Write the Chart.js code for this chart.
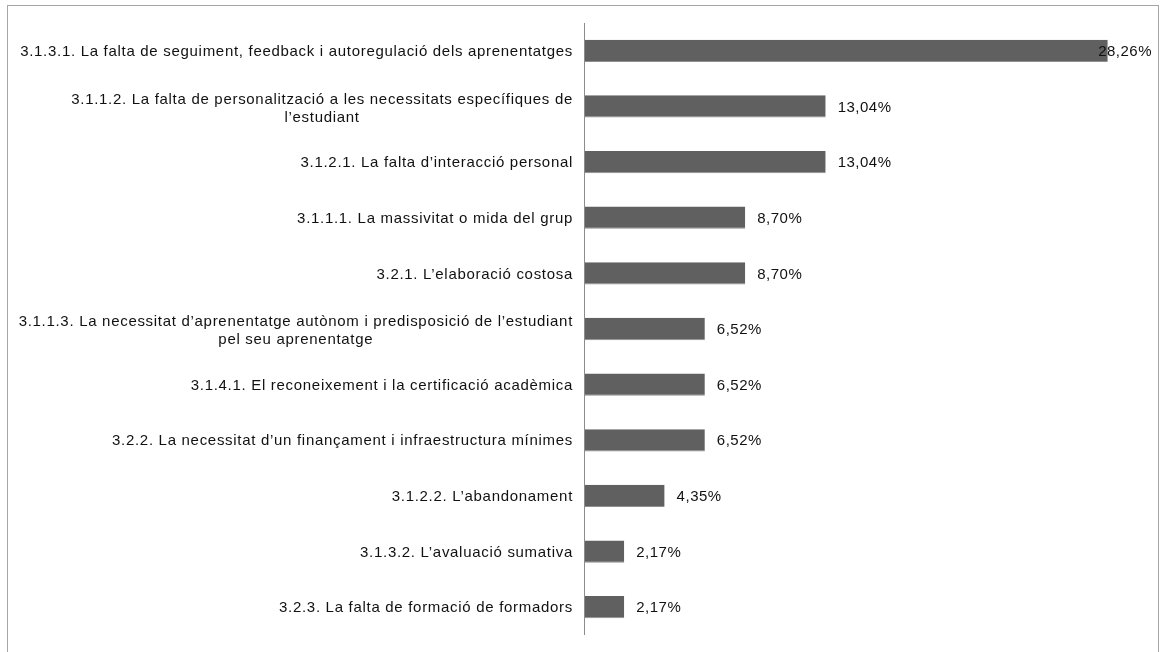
<!DOCTYPE html>
<html>
<head>
<meta charset="utf-8">
<script src="https://cdn.jsdelivr.net/npm/chart.js@4"></script>
<style>
  html, body { margin: 0; padding: 0; background: #fff; overflow: hidden; }
  #wrap { width: 1167px; height: 652px; position: relative; }
</style>
</head>
<body>
<div id="wrap"><canvas id="grafic"></canvas></div>
<script>
// categories (each entry is a list of lines) and percentages
const categories = [
  ['3.1.3.1. La falta de seguiment, feedback i autoregulació dels aprenentatges'],
  ['3.1.1.2. La falta de personalització a les necessitats específiques de', 'l’estudiant'],
  ['3.1.2.1. La falta d’interacció personal'],
  ['3.1.1.1. La massivitat o mida del grup'],
  ['3.2.1. L’elaboració costosa'],
  ['3.1.1.3. La necessitat d’aprenentatge autònom i predisposició de l’estudiant', 'pel seu aprenentatge'],
  ['3.1.4.1. El reconeixement i la certificació acadèmica'],
  ['3.2.2. La necessitat d’un finançament i infraestructura mínimes'],
  ['3.1.2.2. L’abandonament'],
  ['3.1.3.2. L’avaluació sumativa'],
  ['3.2.3. La falta de formació de formadors']
];
const percentatges = [28.26, 13.04, 13.04, 8.70, 8.70, 6.52, 6.52, 6.52, 4.35, 2.17, 2.17];

const FONT = '15px "Liberation Sans", Arial, sans-serif';

function fmt(v) {
  return v.toFixed(2).replace('.', ',') + '%';
}

// marc, eix vertical, etiquetes de categoria i de valor
const decoracio = {
  id: 'decoracio',
  afterDatasetsDraw(chart) {
    const ctx = chart.ctx;
    const area = chart.chartArea;
    const y = chart.scales.y;
    ctx.save();

    // marc exterior
    ctx.strokeStyle = '#a6a6a6';
    ctx.lineWidth = 1;
    ctx.strokeRect(7.5, 5.5, 1151, 700);

    // eix vertical
    ctx.strokeStyle = '#8c8c8c';
    ctx.beginPath();
    ctx.moveTo(Math.round(area.left) + 0.5, area.top);
    ctx.lineTo(Math.round(area.left) + 0.5, area.bottom);
    ctx.stroke();

    ctx.font = FONT;
    ctx.letterSpacing = '0.7px';
    ctx.fillStyle = '#111';
    ctx.textBaseline = 'middle';

    // etiquetes de categoria
    const dreta = area.left - 11;
    const interlinia = 18;
    categories.forEach((linies, i) => {
      const cy = y.getPixelForValue(i);
      const amples = linies.map(l => ctx.measureText(l).width);
      const maxW = Math.max(...amples);
      const cx = dreta - maxW / 2;
      const y0 = cy - (linies.length - 1) * interlinia / 2 + (linies.length > 1 ? 2 : 1);
      ctx.textAlign = 'center';
      linies.forEach((l, k) => ctx.fillText(l, cx, y0 + k * interlinia));
    });

    // etiquetes de valor
    ctx.letterSpacing = '0.5px';
    ctx.textAlign = 'left';
    const meta = chart.getDatasetMeta(0);
    meta.data.forEach((bar, i) => {
      const txt = fmt(percentatges[i]);
      const w = ctx.measureText(txt).width;
      const x = Math.min(bar.x + 12, 1152 - w);
      ctx.fillText(txt, x, bar.y + 1);
    });
    ctx.restore();
  }
};

new Chart(document.getElementById('grafic'), {
  type: 'bar',
  data: {
    labels: categories,
    datasets: [{
      data: percentatges,
      backgroundColor: '#606060',
      borderColor: '#8f8f8f',
      borderWidth: { top: 0, right: 0, bottom: 1, left: 0 },
      borderSkipped: false,
      categoryPercentage: 1,
      barPercentage: 0.4
    }]
  },
  options: {
    indexAxis: 'y',
    responsive: true,
    maintainAspectRatio: false,
    animation: false,
    layout: { padding: { left: 584, right: 27, top: 23, bottom: 17 } },
    scales: {
      x: { display: false, min: 0, max: 30 },
      y: { display: false }
    },
    plugins: {
      legend: { display: false },
      tooltip: { enabled: false }
    }
  },
  plugins: [decoracio]
});
</script>
</body>
</html>
